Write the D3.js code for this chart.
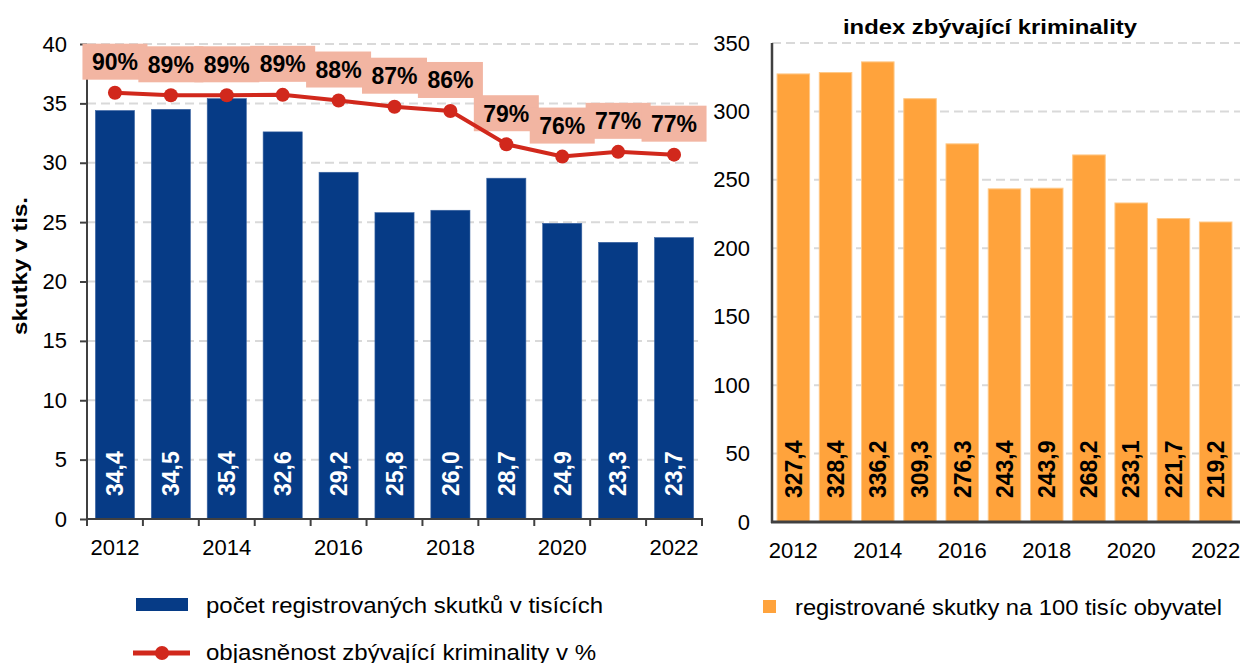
<!DOCTYPE html>
<html>
<head>
<meta charset="utf-8">
<script src="https://cdn.jsdelivr.net/npm/d3@7"></script>
<style>
  body { margin: 0; background: #fff; }
  text { font-family: "Liberation Sans", Arial, sans-serif; }
</style>
</head>
<body>
<div id="plot"></div>
<script>
var years = [2012, 2013, 2014, 2015, 2016, 2017, 2018, 2019, 2020, 2021, 2022];
var skutky = [34.4, 34.5, 35.4, 32.6, 29.2, 25.8, 26.0, 28.7, 24.9, 23.3, 23.7];
var objasnenost = [89.75, 89.2, 89.2, 89.3, 88.1, 86.8, 85.9, 78.9, 76.3, 77.3, 76.7];
var index100 = [327.4, 328.4, 336.2, 309.3, 276.3, 243.4, 243.9, 268.2, 233.1, 221.7, 219.2];
var leftTicks = [0, 5, 10, 15, 20, 25, 30, 35, 40];
var rightTicks = [0, 50, 100, 150, 200, 250, 300, 350];
var yearLabels = [2012, 2014, 2016, 2018, 2020, 2022];

var blue = "#063b86", red = "#d1281c", salmon = "#f2b5a2", orange = "#ffa33c";
var grid = "#d9d9d9", axisCol = "#404040";

var svg = d3.select("div#plot")
            .append("svg")
            .attr("width", 1248)
            .attr("height", 663);

var fmt = d => d.toFixed(1).replace(".", ",");

// ---------- left chart ----------
var xL = d3.scaleBand().domain(years).range([87, 702]).paddingInner(0.3).paddingOuter(0.15);
var yL = d3.scaleLinear().domain([0, 40]).range([519, 44]);
var yP = d3.scaleLinear().domain([0, 100]).range([519, 44]);

// gridlines
svg.append("g").selectAll("line")
  .data(leftTicks.slice(1))
  .join("line")
  .attr("x1", 87).attr("x2", 702)
  .attr("y1", d => yL(d)).attr("y2", d => yL(d))
  .attr("stroke", grid).attr("stroke-width", 2)
  .attr("stroke-dasharray", "9,5");

// bars
svg.append("g").selectAll("rect")
  .data(skutky)
  .join("rect")
  .attr("x", (d, i) => xL(years[i]))
  .attr("y", d => yL(d))
  .attr("width", xL.bandwidth())
  .attr("height", d => yL(0) - yL(d))
  .attr("fill", blue)
  .attr("stroke", "#3d66a3").attr("stroke-width", 0.6);

// bar labels
svg.append("g").selectAll("text")
  .data(skutky)
  .join("text")
  .attr("transform", (d, i) => `translate(${xL(years[i]) + xL.bandwidth() / 2}, ${yL(0) - 23}) rotate(-90)`)
  .attr("dy", "0.36em")
  .attr("fill", "#fff")
  .style("font-size", "23px")
  .style("font-weight", "bold")
  .text(d => fmt(d));

// y axis
var gyL = svg.append("g")
  .attr("transform", "translate(87, 0)")
  .call(d3.axisLeft(yL).tickValues(leftTicks).tickSize(7).tickPadding(13));
gyL.select(".domain").attr("stroke", axisCol).attr("stroke-width", 2).attr("d", "M0,519V44");
gyL.selectAll(".tick line").attr("stroke", axisCol).attr("stroke-width", 2);
gyL.selectAll(".tick text").style("font-size", "22px").attr("fill", "#000")
  .style("font-family", "Liberation Sans, Arial, sans-serif");

// x axis
var gxL = svg.append("g")
  .attr("transform", "translate(0, 519)")
  .call(d3.axisBottom(xL).tickSize(0).tickPadding(20)
    .tickFormat(d => yearLabels.includes(d) ? d : ""));
gxL.select(".domain").attr("stroke", axisCol).attr("stroke-width", 2).attr("d", "M87,0H703");
gxL.selectAll(".tick text").style("font-size", "22px").attr("fill", "#000")
  .style("font-family", "Liberation Sans, Arial, sans-serif");
var bounds = years.map(y => xL(y) - xL.step() * xL.paddingInner() / 2).concat([702]);
svg.append("g").selectAll("line")
  .data(bounds)
  .join("line")
  .attr("x1", d => d).attr("x2", d => d)
  .attr("y1", 519).attr("y2", 526)
  .attr("stroke", axisCol).attr("stroke-width", 2);

// y axis title
svg.append("text")
  .attr("transform", "translate(27, 266) rotate(-90)")
  .attr("text-anchor", "middle")
  .attr("textLength", 138)
  .attr("lengthAdjust", "spacingAndGlyphs")
  .style("font-size", "21px")
  .style("font-weight", "bold")
  .text("skutky v tis.");

// label boxes for the percentages
var cx = (d, i) => xL(years[i]) + xL.bandwidth() / 2;
svg.append("g").selectAll("rect")
  .data(objasnenost)
  .join("rect")
  .attr("x", (d, i) => cx(d, i) - 32.5)
  .attr("y", d => yP(d) - 31 - 18)
  .attr("width", 65)
  .attr("height", 36)
  .attr("fill", salmon);

// line
var line = d3.line()
  .x((d, i) => cx(d, i))
  .y(d => yP(d));
svg.append("path")
  .datum(objasnenost)
  .attr("fill", "none")
  .attr("stroke", red)
  .attr("stroke-width", 4)
  .attr("d", line);
svg.append("g").selectAll("circle")
  .data(objasnenost)
  .join("circle")
  .attr("cx", cx)
  .attr("cy", d => yP(d))
  .attr("r", 7)
  .attr("fill", red);

svg.append("g").selectAll("text")
  .data(objasnenost)
  .join("text")
  .attr("x", cx)
  .attr("y", d => yP(d) - 31)
  .attr("dy", "0.36em")
  .attr("text-anchor", "middle")
  .style("font-size", "23px")
  .style("font-weight", "bold")
  .text(d => Math.round(d) + "%");

// ---------- right chart ----------
var xR = d3.scaleBand().domain(years).range([772, 1237]).paddingInner(0.23).paddingOuter(0.12);
var yR = d3.scaleLinear().domain([0, 350]).range([522, 43]);

svg.append("g").selectAll("line")
  .data(rightTicks.slice(1))
  .join("line")
  .attr("x1", 772).attr("x2", 1240)
  .attr("y1", d => yR(d)).attr("y2", d => yR(d))
  .attr("stroke", grid).attr("stroke-width", 2)
  .attr("stroke-dasharray", "9,5");

svg.append("g").selectAll("rect")
  .data(index100)
  .join("rect")
  .attr("x", (d, i) => xR(years[i]))
  .attr("y", d => yR(d))
  .attr("width", xR.bandwidth())
  .attr("height", d => yR(0) - yR(d))
  .attr("fill", orange)
  .attr("stroke", "#ffc886").attr("stroke-width", 1);

svg.append("g").selectAll("text")
  .data(index100)
  .join("text")
  .attr("transform", (d, i) => `translate(${xR(years[i]) + xR.bandwidth() / 2}, ${yR(0) - 24}) rotate(-90)`)
  .attr("dy", "0.36em")
  .attr("fill", "#000")
  .style("font-size", "23px")
  .style("font-weight", "bold")
  .text(d => fmt(d));

var gyR = svg.append("g")
  .attr("transform", "translate(772, 0)")
  .call(d3.axisLeft(yR).tickValues(rightTicks).tickSize(0).tickPadding(22));
gyR.select(".domain").attr("stroke", axisCol).attr("stroke-width", 2.5).attr("d", "M0,523V43");
gyR.selectAll(".tick text").style("font-size", "22px").attr("fill", "#000")
  .style("font-family", "Liberation Sans, Arial, sans-serif");

var gxR = svg.append("g")
  .attr("transform", "translate(0, 522)")
  .call(d3.axisBottom(xR).tickSize(0).tickPadding(20)
    .tickFormat(d => yearLabels.includes(d) ? d : ""));
gxR.select(".domain").attr("stroke", axisCol).attr("stroke-width", 3).attr("d", "M771,0H1240");
gxR.selectAll(".tick text").style("font-size", "22px").attr("fill", "#000")
  .style("font-family", "Liberation Sans, Arial, sans-serif");

svg.append("text")
  .attr("x", 990)
  .attr("y", 34)
  .attr("text-anchor", "middle")
  .attr("textLength", 294)
  .attr("lengthAdjust", "spacingAndGlyphs")
  .style("font-size", "21px")
  .style("font-weight", "bold")
  .text("index zbývající kriminality");

// ---------- legends ----------
svg.append("rect")
  .attr("x", 136).attr("y", 598)
  .attr("width", 52).attr("height", 13)
  .attr("fill", blue);
svg.append("text")
  .attr("x", 206).attr("y", 605)
  .attr("dy", "0.36em")
  .attr("textLength", 397)
  .attr("lengthAdjust", "spacingAndGlyphs")
  .style("font-size", "22px")
  .text("počet registrovaných skutků v tisících");

svg.append("line")
  .attr("x1", 133).attr("x2", 190)
  .attr("y1", 653).attr("y2", 653)
  .attr("stroke", red).attr("stroke-width", 5);
svg.append("circle")
  .attr("cx", 162).attr("cy", 653).attr("r", 7)
  .attr("fill", red);
svg.append("text")
  .attr("x", 206).attr("y", 652)
  .attr("dy", "0.36em")
  .attr("textLength", 390)
  .attr("lengthAdjust", "spacingAndGlyphs")
  .style("font-size", "22px")
  .text("objasněnost zbývající kriminality v %");

svg.append("rect")
  .attr("x", 763).attr("y", 600)
  .attr("width", 13).attr("height", 13)
  .attr("fill", orange);
svg.append("text")
  .attr("x", 795).attr("y", 607)
  .attr("dy", "0.36em")
  .attr("textLength", 427)
  .attr("lengthAdjust", "spacingAndGlyphs")
  .style("font-size", "22px")
  .text("registrované skutky na 100 tisíc obyvatel");
</script>
</body>
</html>
